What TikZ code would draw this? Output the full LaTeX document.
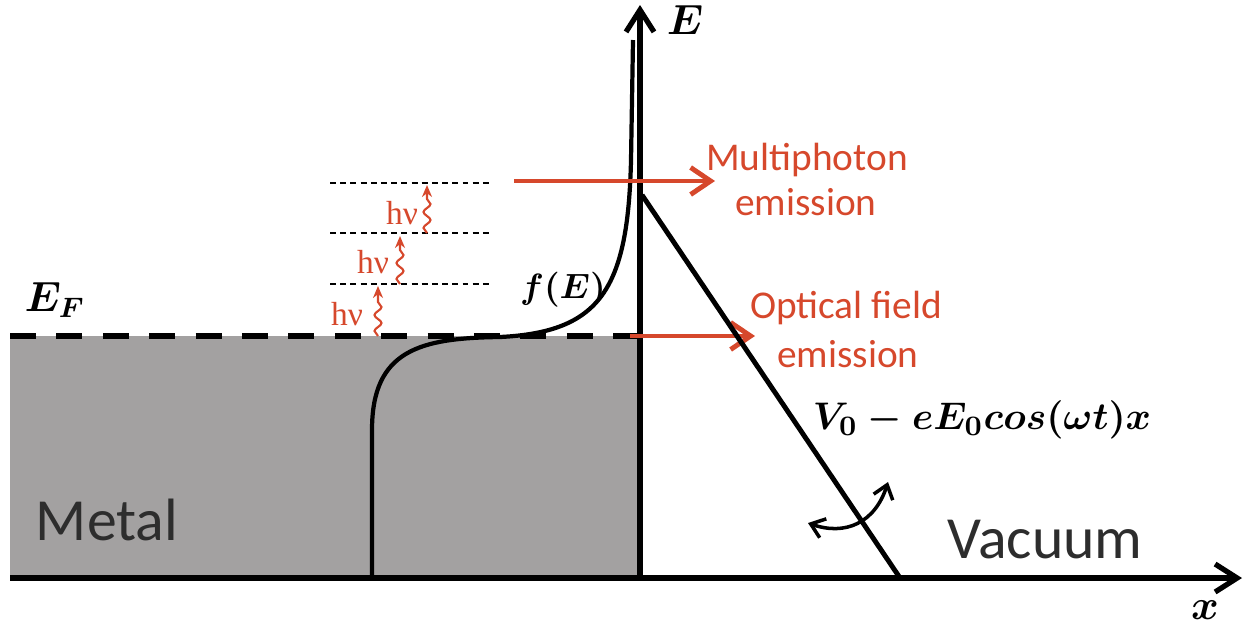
\documentclass[tikz,border=0pt]{standalone}
\usepackage{amsmath}
\usepackage{fontspec}
\setmainfont{Carlito}
\newfontfamily\greekserif{Liberation Serif}
\usetikzlibrary{arrows.meta,decorations.pathmorphing}

\definecolor{laserred}{RGB}{214,72,44}
\definecolor{metalgray}{RGB}{163,161,161}
\definecolor{labelgray}{RGB}{45,45,45}

\begin{document}
\begin{tikzpicture}[
        axis/.style={line width=1.5pt,-{Straight Barb[length=2.2mm,width=2.8mm,line width=1.5pt]}},
        emitarrow/.style={laserred,line width=1.4pt,-{Straight Barb[length=2mm,width=2.7mm,line width=1.4pt]}},
        photon/.style={laserred,line width=0.6pt,-{Stealth[length=1.2mm,width=1mm]},decorate,
            decoration={snake,amplitude=0.35mm,segment length=1.6mm,post length=1.2mm}},
        level/.style={line width=0.6pt,dash pattern=on 1.7pt off 1.2pt},
        redtext/.style={laserred,font=\fontsize{11.2}{12}\selectfont,align=center},
        bigtext/.style={labelgray,font=\fontsize{17}{19}\selectfont}
    ]
        \useasboundingbox (0,0) rectangle (12.51,6.28);

        % metal
        \fill[metalgray] (0.10,0.50) rectangle (6.40,2.92);
        \node[bigtext] (metal) at (1.07,1.08) {Metal};

        % Fermi niveau
        \draw[line width=1.7pt,dash pattern=on 7.4pt off 5.8pt] (0.10,2.92) -- (6.40,2.92);
        \node (ef) at (0.55,3.28) {\large$\boldsymbol{E_F}$};

        % osy
        \coordinate (o) at (6.40,0.50);
        \coordinate (xl) at (0.10,0.50);
        \coordinate (xr) at (12.42,0.50);
        \coordinate (et) at (6.40,6.23);
        \draw[axis] (xl) -- (xr);
        \draw[axis] (o) -- (et);
        \node (elab) at (6.85,6.08) {\large$\boldsymbol{E}$};
        \node (xlab) at (12.05,0.18) {\large$\boldsymbol{x}$};

        % f(E)
        \draw[line width=1.2pt] (3.72,0.50) -- (3.72,1.98)
            .. controls (3.72,2.78) and (4.20,2.90) .. (5.00,2.91)
            .. controls (6.00,2.96) and (6.28,3.38) .. (6.31,4.68) -- (6.33,5.88);
        \node (fe) at (5.63,3.38) {$\boldsymbol{f(E)}$};

        % hladiny a fotony
        \draw[level] (3.30,4.45) -- (4.93,4.45);
        \draw[level] (3.30,3.95) -- (4.93,3.95);
        \draw[level] (3.30,3.44) -- (4.93,3.44);
        \draw[photon] (4.27,3.95) -- (4.27,4.43);
        \draw[photon] (4.00,3.44) -- (4.00,3.92);
        \draw[photon] (3.78,2.92) -- (3.78,3.42);
        \node[laserred] (hv1) at (4.02,4.15) {\greekserif\fontsize{9.5}{11}\selectfont hν};
        \node[laserred] (hv2) at (3.73,3.66) {\greekserif\fontsize{9.5}{11}\selectfont hν};
        \node[laserred] (hv3) at (3.47,3.14) {\greekserif\fontsize{9.5}{11}\selectfont hν};

        % emise
        \coordinate (mpa) at (5.14,4.47);
        \coordinate (mpb) at (7.15,4.47);
        \coordinate (ofa) at (6.30,2.92);
        \coordinate (ofb) at (7.55,2.92);
        \draw[emitarrow] (mpa) -- (mpb);
        \draw[emitarrow] (ofa) -- (ofb);
        \node[redtext] (mp1) at (8.07,4.68) {Multiphoton};
        \node[redtext] (mp2) at (8.06,4.26) {emission};
        \node[redtext] (of1) at (8.46,3.20) {Optical field};
        \node[redtext] (of2) at (8.48,2.74) {emission};

        % vakuum
        \coordinate (va) at (6.42,4.33);
        \coordinate (vb) at (9.00,0.50);
        \draw[line width=1.4pt] (va) -- (vb);
        \node (pot) at (9.82,2.08) {\fontsize{11}{13}\selectfont$\boldsymbol{V_0-eE_0cos(\omega t)x}$};
        \coordinate (swa) at (8.08,1.05);
        \coordinate (swb) at (8.88,1.46);
        \draw[line width=1pt,{Straight Barb[length=1.3mm,width=2mm]}-{Straight Barb[length=1.3mm,width=2mm]}]
            (swa) .. controls (8.45,0.92) and (8.75,1.05) .. (swb);
        \node[bigtext] (vac) at (10.45,0.88) {Vacuum};
    \end{tikzpicture}
\end{document}
